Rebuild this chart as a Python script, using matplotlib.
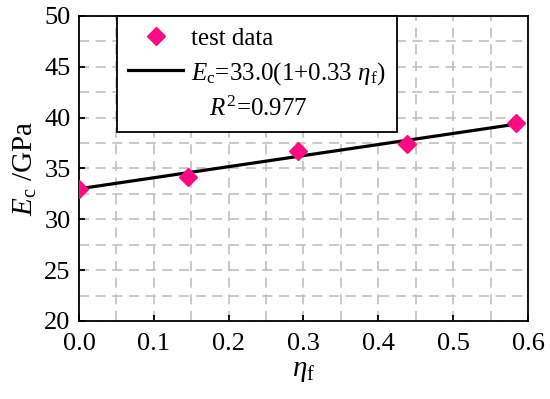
import numpy as np
import matplotlib
matplotlib.use("Agg")
import matplotlib.pyplot as plt
from matplotlib.ticker import MultipleLocator
from matplotlib.lines import Line2D

plt.rcParams['font.family'] = ['Liberation Serif', 'DejaVu Serif']
plt.rcParams['mathtext.fontset'] = 'custom'
plt.rcParams['mathtext.rm'] = 'Liberation Serif'
plt.rcParams['mathtext.it'] = 'Liberation Serif:italic'

# test data
eta_f = [0.0, 0.146, 0.292, 0.438, 0.584]
Ec = [33.0, 34.2, 36.7, 37.4, 39.5]

# fit Ec = a(1 + b*eta_f)
fit_a = 33.0
fit_b = 0.33
r2 = 0.977

fig = plt.figure(figsize=(5.5, 3.99), dpi=100)
ax = fig.add_axes([0.1436, 0.1955, 0.8164, 0.7645])

xf = np.array([eta_f[0], eta_f[-1]])
ax.plot(xf, fit_a * (1 + fit_b * xf), color='black', lw=2.3, zorder=3)
ax.plot(eta_f, Ec, ls='none', marker='D', ms=9, color='#ff0a80', zorder=4)

ax.set_xlim(0, 0.6)
ax.set_ylim(20, 50)
ax.xaxis.set_major_locator(MultipleLocator(0.1))
ax.xaxis.set_minor_locator(MultipleLocator(0.05))
ax.yaxis.set_major_locator(MultipleLocator(5))
ax.yaxis.set_minor_locator(MultipleLocator(2.5))
ax.xaxis.set_major_formatter(lambda v, p: f"{v:.1f}")
ax.grid(which='both', color='#c0c0c0', ls=(0, (6, 4)), lw=1.2)
ax.set_axisbelow(True)
ax.tick_params(which='major', direction='in', length=4.5, width=1.3,
               labelsize=19, top=False, right=False)
ax.tick_params(axis='x', pad=9)
ax.tick_params(axis='y', pad=6)
ax.tick_params(which='minor', length=0)
for s in ax.spines.values():
    s.set_linewidth(1.3)

ax.set_xlabel(r'$\eta_\mathrm{f}$', fontsize=21, labelpad=2)
ax.set_ylabel(r'$E_\mathrm{c}$ /GPa', fontsize=21, labelpad=4)

handles = [
    Line2D([], [], ls='none', marker='D', ms=9, color='#ff0a80'),
    Line2D([], [], color='black', lw=2.3),
    Line2D([], [], ls='none'),
]
labels = [
    'test data',
    r'$E_\mathrm{c}$=33.0(1+0.33 $\eta_\mathrm{f}$)',
    r'   $R^2$=0.977',
]
leg = ax.legend(handles, labels, loc='upper left', bbox_to_anchor=(0.085, 1.0),
                fontsize=18, frameon=True, fancybox=False, edgecolor='black',
                framealpha=1, handlelength=2.2, handletextpad=0.3,
                labelspacing=0.4, borderpad=0.45, borderaxespad=0)
leg.get_frame().set_linewidth(1.3)

fig.savefig('out.png', dpi=100)
